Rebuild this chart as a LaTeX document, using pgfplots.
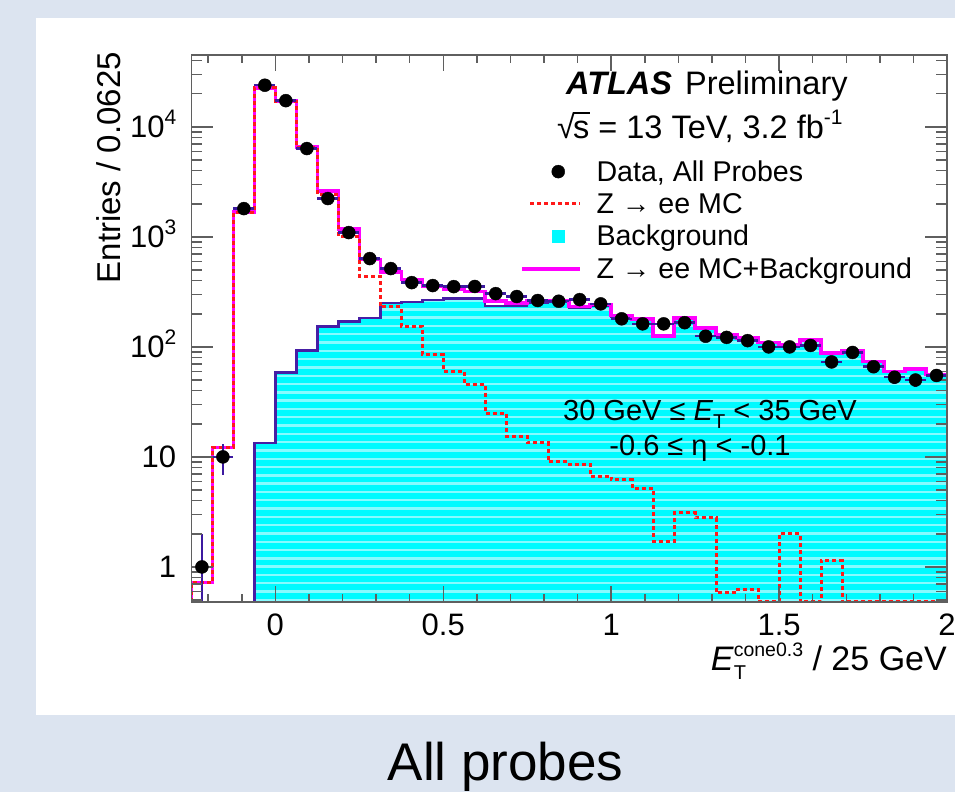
\documentclass[border=0pt]{standalone}
\usepackage{fontspec}
\setmainfont{Liberation Sans}
\usepackage{pgfplots}
\pgfplotsset{compat=1.18}
\usepackage{pgfplotstable}
\usetikzlibrary{patterns.meta}

\definecolor{pagebg}{RGB}{220,228,240}
\definecolor{bkgfill}{RGB}{0,250,255}
\definecolor{bkgstripe}{RGB}{135,250,255}
\definecolor{bkgline}{RGB}{70,30,165}
\definecolor{errblue}{RGB}{60,25,160}
\definecolor{zeered}{RGB}{255,25,25}
\definecolor{totmag}{RGB}{255,0,255}
\definecolor{framegray}{RGB}{95,95,95}

\newcommand\ticksize{\fontsize{31}{31}\selectfont}
\newcommand\labsize{\fontsize{32.5}{32.5}\selectfont}
\newcommand\legsize{\fontsize{28.6}{28.6}\selectfont}
\newcommand\cutsize{\fontsize{29}{29}\selectfont}
\newcommand\sups[1]{\raisebox{0.42em}{\fontsize{21}{21}\selectfont #1}}

% light horizontal stripes laid over the background fill
\tikzdeclarepattern{
  name=hstripes, type=uncolored,
  bottom left={(-1pt,-1pt)}, top right={(11pt,9.3pt)},
  tile size={(10pt,8.3pt)},
  code={\fill (-1pt,0pt) rectangle (11pt,2.4pt);}
}

% Z -> ee MC, left bin edges (bin width 0.0625); empty bins sit on the lower frame (0.48)
\pgfplotstableread{
x y
-0.25 0.48
-0.25 0.72
-0.1875 12.2
-0.125 1675
-0.0625 22600
0 17040
0.0625 6490
0.125 2450
0.1875 1012
0.25 440
0.3125 231
0.375 154
0.4375 85
0.5 60
0.5625 45.4
0.625 25
0.6875 15.4
0.75 13.4
0.8125 9
0.875 8.5
0.9375 6.7
1.0 6.2
1.0625 5.2
1.125 1.7
1.1875 3.1
1.25 2.8
1.3125 0.58
1.375 0.62
1.4375 0.48
1.5 2.0
1.5625 0.48
1.625 1.15
1.6875 0.48
1.75 0.48
1.8125 0.48
1.875 0.48
1.9375 0.48
2 0.48
}\zeemc

% background
\pgfplotstableread{
x y
-0.25 0.48
-0.25 0.48
-0.1875 0.48
-0.125 0.48
-0.0625 13.4
0 58.7
0.0625 92.5
0.125 154
0.1875 171
0.25 184
0.3125 250
0.375 255
0.4375 268
0.5 274
0.5625 275
0.625 236
0.6875 236
0.75 252
0.8125 256
0.875 226
0.9375 236
1.0 187
1.0625 175
1.125 123
1.1875 181
1.25 146
1.3125 128
1.375 120
1.4375 110
1.5 103
1.5625 116
1.625 87
1.6875 93
1.75 74
1.8125 60
1.875 63
1.9375 56
2 56
2 0.48
}\bkg

% Z -> ee MC + background
\pgfplotstableread{
x y
-0.25 0.48
-0.25 0.72
-0.1875 12.2
-0.125 1675
-0.0625 22613
0 17099
0.0625 6582
0.125 2604
0.1875 1183
0.25 624
0.3125 481
0.375 409
0.4375 353
0.5 334
0.5625 320
0.625 261
0.6875 251
0.75 265
0.8125 265
0.875 234
0.9375 243
1.0 193
1.0625 180
1.125 125
1.1875 184
1.25 149
1.3125 129
1.375 121
1.4375 110
1.5 105
1.5625 116
1.625 88
1.6875 93
1.75 74
1.8125 60
1.875 63
1.9375 56
2 56
}\total

% data, all probes: bin centre, counts, half bin width, sqrt(N) errors
\pgfplotstableread{
x y ex eyp eym
-0.21875 1 0.03125 1 0.99
-0.15625 10 0.03125 3.16 3.16
-0.09375 1808 0.03125 42.5 42.5
-0.03125 23900 0.03125 154.6 154.6
0.03125 17300 0.03125 131.5 131.5
0.09375 6350 0.03125 79.7 79.7
0.15625 2230 0.03125 47.2 47.2
0.21875 1094 0.03125 33.1 33.1
0.28125 635 0.03125 25.2 25.2
0.34375 515 0.03125 22.7 22.7
0.40625 384 0.03125 19.6 19.6
0.46875 361 0.03125 19.0 19.0
0.53125 353 0.03125 18.8 18.8
0.59375 354 0.03125 18.8 18.8
0.65625 305 0.03125 17.5 17.5
0.71875 287 0.03125 16.9 16.9
0.78125 264 0.03125 16.2 16.2
0.84375 260 0.03125 16.1 16.1
0.90625 269 0.03125 16.4 16.4
0.96875 246 0.03125 15.7 15.7
1.03125 180 0.03125 13.4 13.4
1.09375 162 0.03125 12.7 12.7
1.15625 162 0.03125 12.7 12.7
1.21875 166 0.03125 12.9 12.9
1.28125 125 0.03125 11.2 11.2
1.34375 122 0.03125 11.0 11.0
1.40625 114 0.03125 10.7 10.7
1.46875 100 0.03125 10.0 10.0
1.53125 100 0.03125 10.0 10.0
1.59375 103 0.03125 10.1 10.1
1.65625 73 0.03125 8.5 8.5
1.71875 89 0.03125 9.4 9.4
1.78125 66 0.03125 8.1 8.1
1.84375 53 0.03125 7.3 7.3
1.90625 50 0.03125 7.1 7.1
1.96875 55 0.03125 7.4 7.4
}\data

\begin{document}
\begin{tikzpicture}
\useasboundingbox (0,0) rectangle (955pt,792pt);
\fill[pagebg] (0,0) rectangle (955pt,792pt);
\fill[white] (36pt,77pt) rectangle (955pt,774pt);

\begin{axis}[
  at={(191.4pt,190pt)}, anchor=south west,
  width=755.6pt, height=547pt, scale only axis,
  xmin=-0.25, xmax=2,
  ymode=log, ymin=0.48, ymax=45000,
  axis on top,
  axis line style={framegray, line width=1.5pt},
  tick align=inside, tick pos=both,
  xtick style={framegray, line width=1.5pt, /pgfplots/major tick length=16pt, /pgfplots/minor tick length=8pt},
  ytick style={framegray, line width=1.5pt, /pgfplots/major tick length=22pt, /pgfplots/minor tick length=11pt},
  xtick={0,0.5,1,1.5,2},
  xticklabels={0,0.5,1,1.5,2},
  minor xtick={-0.2,-0.1,0.1,0.2,0.3,0.4,0.6,0.7,0.8,0.9,1.1,1.2,1.3,1.4,1.6,1.7,1.8,1.9},
  ytick={1,10,100,1000,10000},
  yticklabels={1,10,10\sups{2},10\sups{3},10\sups{4}},
  minor ytick={0.5,0.6,0.7,0.8,0.9,2,3,4,5,6,7,8,9,20,30,40,50,60,70,80,90,200,300,400,500,600,700,800,900,2000,3000,4000,5000,6000,7000,8000,9000,20000,30000,40000},
  xticklabel style={font=\ticksize, anchor=north, inner sep=0pt, yshift=-12pt},
  yticklabel style={font=\ticksize, anchor=base east, inner sep=0pt, xshift=-15pt, yshift=-11pt},
  legend cell align=left,
  legend style={at={(0.4349,0.8071)}, anchor=north west, draw=none, fill=none,
    inner sep=0pt, outer sep=0pt, font=\legsize, row sep=10.5pt, column sep=14pt,
    nodes={inner sep=0pt}},
]
% background: fill, stripes, outline
\addplot[draw=none, fill=bkgfill, const plot mark left, forget plot] table {\bkg} -- cycle;
\addplot[draw=none, pattern=hstripes, pattern color=bkgstripe, const plot mark left, forget plot] table {\bkg} -- cycle;
\addplot[bkgline, line width=2.5pt, const plot mark left, forget plot] table {\bkg};
% Z -> ee MC + background
\addplot[totmag, line width=3.5pt, const plot mark left, forget plot] table {\total};
% Z -> ee MC
\addplot[zeered, line width=3pt, dash pattern=on 4pt off 3pt, const plot mark left, forget plot] table {\zeemc};
% data
\addplot[only marks, mark=*, mark size=6.5pt, black, forget plot,
  error bars/.cd, x dir=both, x explicit, y dir=both, y explicit,
  error bar style={errblue, line width=2.5pt}, error mark=none]
  table[x=x, y=y, x error=ex, y error plus=eyp, y error minus=eym] {\data};

\addlegendimage{legend image code/.code={\path[draw=none] (0pt,0pt) -- (58pt,0pt); \fill[black] (36pt,0pt) circle (6.5pt);}}
\addlegendentry{Data, All Probes}
\addlegendimage{legend image code/.code={\path[draw=none] (0pt,0pt) -- (58pt,0pt); \draw[zeered, line width=3pt, dash pattern=on 4pt off 3pt] (8pt,0pt) -- (58pt,0pt);}}
\addlegendentry{Z → ee MC}
\addlegendimage{legend image code/.code={\path[draw=none] (0pt,0pt) -- (58pt,0pt); \fill[bkgfill] (30pt,-6pt) rectangle (42pt,6pt);}}
\addlegendentry{Background}
\addlegendimage{legend image code/.code={\path[draw=none] (0pt,0pt) -- (58pt,0pt); \draw[totmag, line width=4.5pt] (0pt,0pt) -- (58pt,0pt);}}
\addlegendentry{Z → ee MC+Background}
\end{axis}

% labels and annotations
\node[rotate=90, anchor=base east, font=\fontsize{33}{33}\selectfont, inner sep=0pt] at (120pt,740pt) {Entries / 0.0625};
\node[anchor=base east, font=\fontsize{34}{34}\selectfont, inner sep=0pt] at (947pt,121pt)
  {\textit{E}\rlap{\raisebox{-9pt}{\fontsize{20}{20}\selectfont T}}\raisebox{14pt}{\fontsize{19.5}{19.5}\selectfont cone0.3} / 25 GeV};
\node[anchor=base west, font=\labsize, inner sep=0pt] at (566pt,697pt) {\textbf{\textit{ATLAS}}\hspace{0.4em}Preliminary};
\node[anchor=base west, font=\labsize, inner sep=0pt] at (557pt,653.7pt)
  {√\kern-0.06em\rlap{\rule[0.76em]{0.52em}{0.05em}}s = 13 TeV, 3.2 fb\sups{-1}};
\node[anchor=base, font=\cutsize, inner sep=0pt] at (710pt,371pt)
  {30 GeV ≤ \textit{E}\raisebox{-0.25em}{\fontsize{20}{20}\selectfont T} < 35 GeV};
\node[anchor=base, font=\cutsize, inner sep=0pt] at (700pt,336pt) {-0.6 ≤ η < -0.1};
\node[anchor=base, font=\fontsize{53}{53}\selectfont, inner sep=0pt] at (505.5pt,11.5pt) {All probes};
\end{tikzpicture}
\end{document}
